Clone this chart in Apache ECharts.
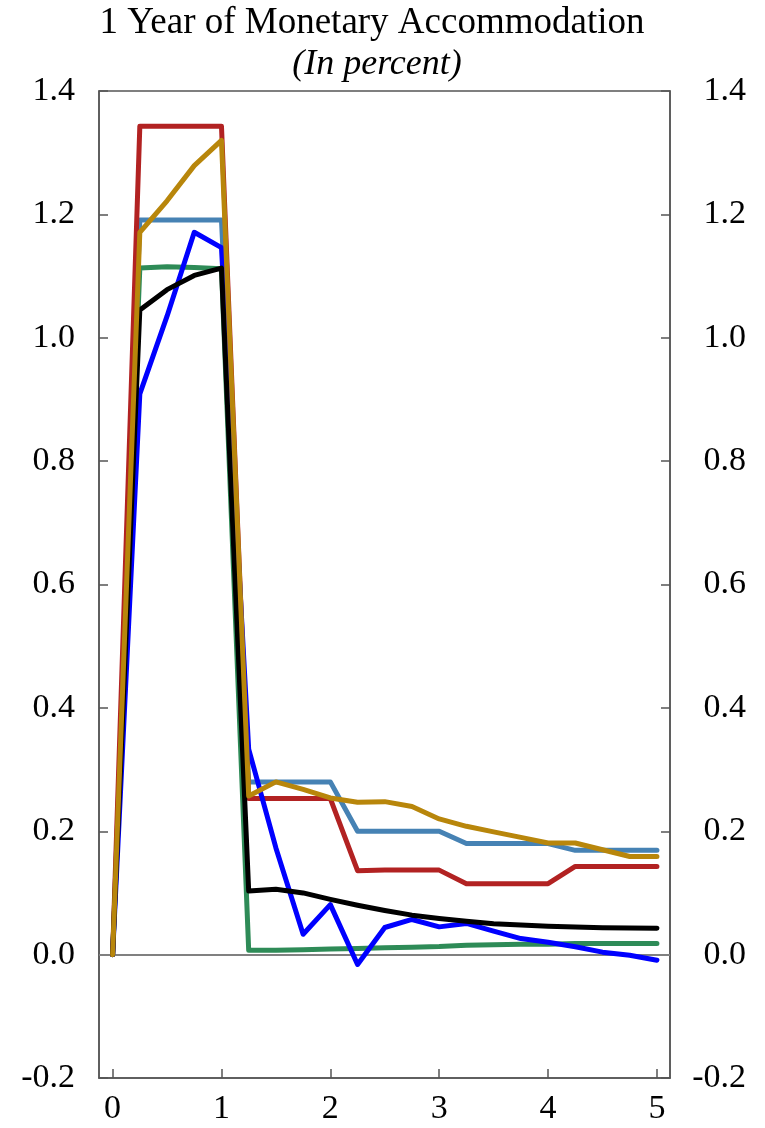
<!DOCTYPE html>
<html>
<head>
<meta charset="utf-8">
<script src="https://cdn.jsdelivr.net/npm/echarts@6/dist/echarts.min.js"></script>
<style>html,body{margin:0;padding:0;background:#fff}#c{width:765px;height:1128px}</style>
</head>
<body>
<div id="c"></div>
<script>
const title = '1 Year of Monetary Accommodation';
const subtitle = '(In percent)';
const quarters = [0,0.25,0.5,0.75,1,1.25,1.5,1.75,2,2.25,2.5,2.75,3,3.25,3.5,3.75,4,4.25,4.5,4.75,5];
const xTicks = [0,1,2,3,4,5];
const redSeries = [0,1.343,1.343,1.343,1.343,0.253,0.253,0.253,0.253,0.136,0.137,0.137,0.137,0.115,0.115,0.115,0.115,0.143,0.143,0.143,0.143];
const steelSeries = [0,1.191,1.191,1.191,1.191,0.280,0.280,0.280,0.280,0.200,0.200,0.200,0.200,0.180,0.180,0.180,0.180,0.169,0.169,0.169,0.169];
const goldSeries = [0,1.171,1.222,1.279,1.320,0.257,0.280,0.268,0.254,0.247,0.248,0.240,0.220,0.208,0.199,0.190,0.181,0.181,0.170,0.159,0.159];
const greenSeries = [0,1.113,1.115,1.114,1.112,0.007,0.007,0.008,0.009,0.010,0.011,0.012,0.013,0.015,0.016,0.017,0.017,0.018,0.018,0.018,0.018];
const blackSeries = [0,1.045,1.078,1.101,1.113,0.103,0.106,0.100,0.0895,0.080,0.0715,0.064,0.0587,0.054,0.050,0.048,0.046,0.0446,0.0436,0.043,0.0427];
const blueSeries = [0,0.909,1.035,1.171,1.146,0.333,0.173,0.033,0.081,-0.016,0.044,0.057,0.045,0.0506,0.038,0.026,0.020,0.0127,0.004,-0.001,-0.009];

const FONT = '"Liberation Serif", "DejaVu Serif", serif';
const pairs = arr => quarters.map((q, i) => [q, arr[i]]);
function line(name, data, color, z) {
  return {
    name, type: 'line', data: pairs(data), symbol: 'none', z,
    lineStyle: { color, width: 5, cap: 'round', join: 'round' },
    animation: false
  };
}
const chart = echarts.init(document.getElementById('c'), null, { renderer: 'canvas' });
const AX = '#555';
const yAxisCommon = {
  type: 'value', min: -0.2, max: 1.4, interval: 0.2,
  axisLine: { show: true, onZero: false, lineStyle: { color: AX, width: 1.5 } },
  axisTick: { show: true, inside: true, length: 9, lineStyle: { color: AX, width: 1.5 } },
  splitLine: { show: false },
};
chart.setOption({
  animation: false,
  title: [
    { text: title, left: 367, top: 0, textAlign: 'center',
      textStyle: { fontFamily: FONT, fontSize: 37, fontWeight: 'normal', color: '#000' } },
    { text: subtitle, left: 372, top: 42, textAlign: 'center',
      textStyle: { fontFamily: FONT, fontSize: 36, fontStyle: 'italic', fontWeight: 'normal', color: '#000' } }
  ],
  grid: { left: 99, right: 95, top: 91, bottom: 50, show: true, borderColor: AX, borderWidth: 1.5 },
  xAxis: {
    type: 'value', min: -0.125, max: 5.12,
    axisLine: { show: true, onZero: false, lineStyle: { color: AX, width: 1.5 } },
    axisTick: { show: true, inside: true, length: 9, customValues: xTicks, lineStyle: { color: AX, width: 1.5 } },
    axisLabel: { customValues: xTicks, margin: 14, fontFamily: FONT, fontSize: 34, color: '#000' },
    splitLine: { show: false }
  },
  yAxis: [
    Object.assign({}, yAxisCommon, { position: 'left',
      axisLabel: { margin: 24, fontFamily: FONT, fontSize: 34, color: '#000', formatter: v => v.toFixed(1) } }),
    Object.assign({}, yAxisCommon, { position: 'right',
      axisLabel: { margin: 76, align: 'right', fontFamily: FONT, fontSize: 34, color: '#000', formatter: v => v.toFixed(1) } })
  ],
  series: [
    { type: 'line', data: [], symbol: 'none', z: 1,
      markLine: { silent: true, symbol: 'none', label: { show: false },
        lineStyle: { color: '#808080', width: 2, type: 'solid' }, data: [{ yAxis: 0 }] } },
    line('green', greenSeries, '#2E8B57', 2),
    line('steel', steelSeries, '#4682B4', 3),
    line('red', redSeries, '#B22222', 4),
    line('blue', blueSeries, '#0000FF', 5),
    line('black', blackSeries, '#000000', 6),
    line('gold', goldSeries, '#B8860B', 7)
  ]
});
</script>
</body>
</html>
